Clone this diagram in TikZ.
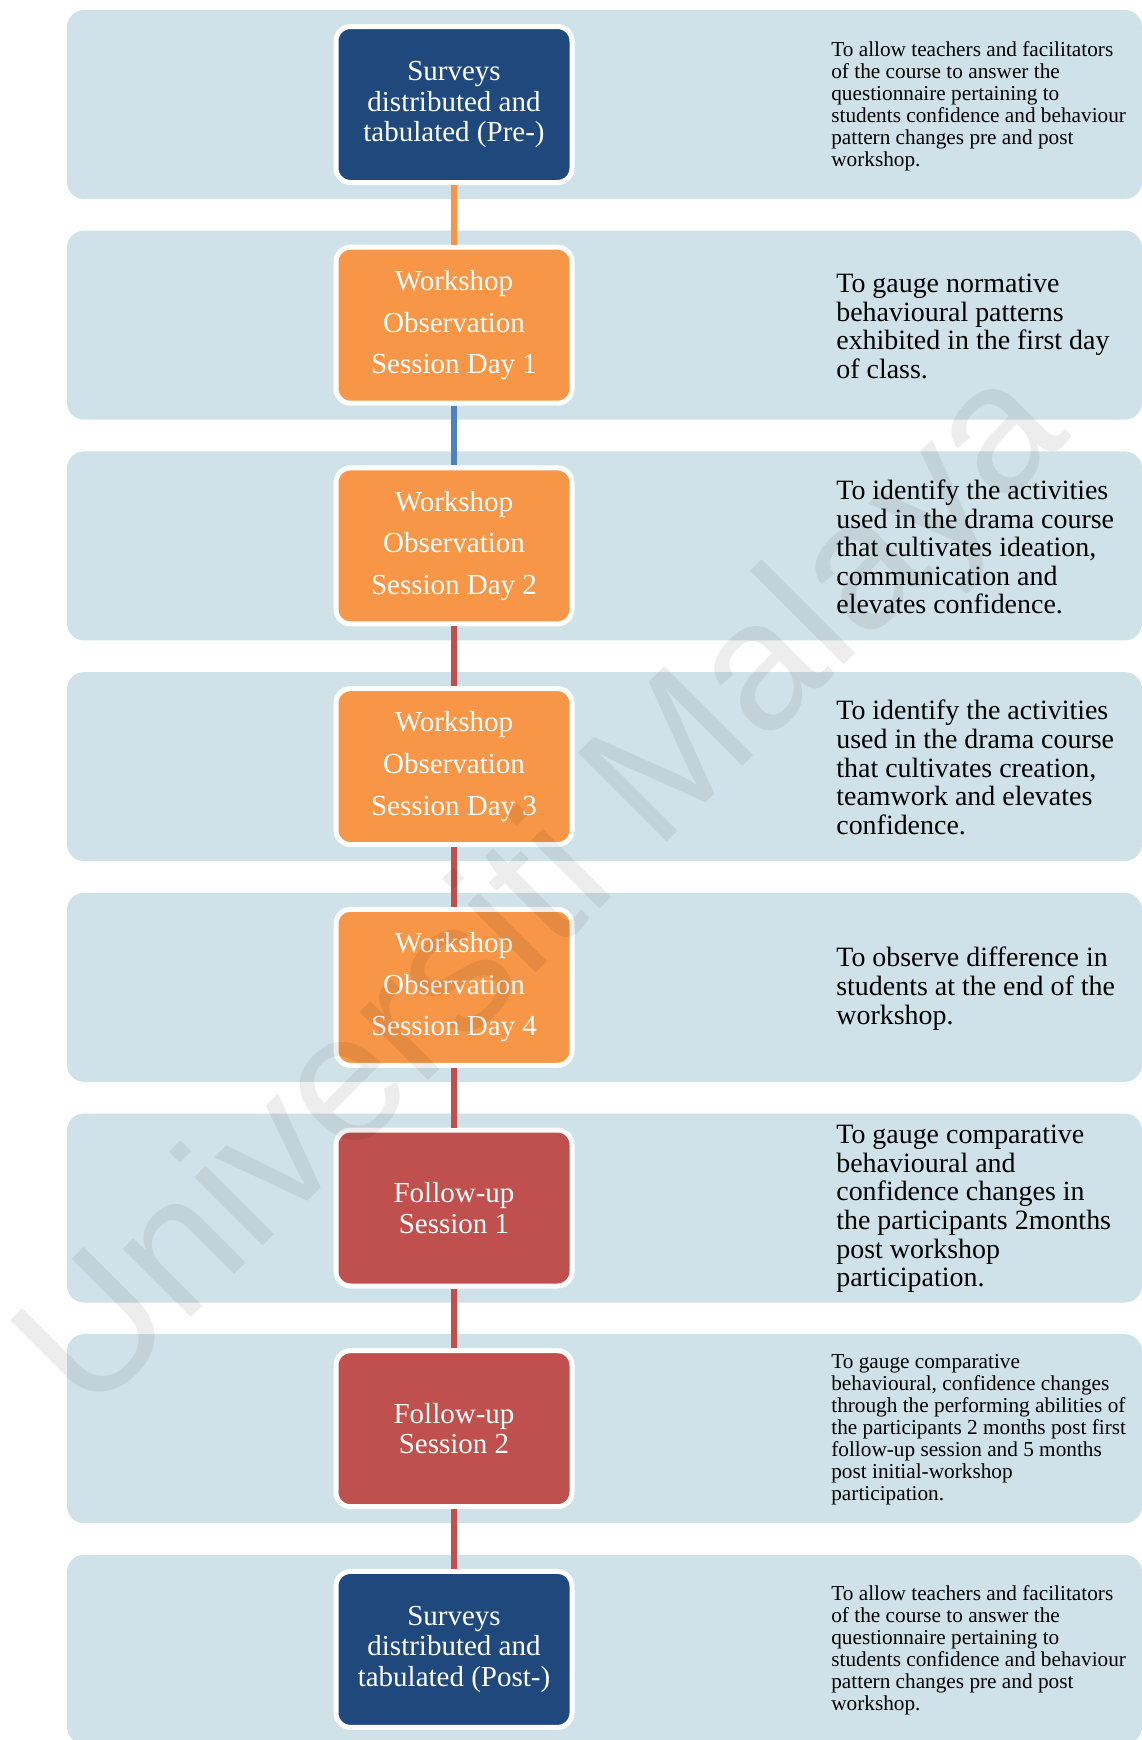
\documentclass[tikz,border=0pt]{standalone}
\usepackage{fontspec}
\setmainfont{Liberation Serif}
\newfontfamily\wmfont{Liberation Sans}
\definecolor{bandblue}{RGB}{208,226,233}
\definecolor{stepnavy}{RGB}{31,73,125}
\definecolor{steporange}{RGB}{247,150,70}
\definecolor{stepred}{RGB}{192,80,77}
\definecolor{linkblue}{RGB}{79,129,189}
\tikzset{
  band/.style={rectangle, rounded corners=0.34cm, fill=bandblue, minimum width=21.5cm, minimum height=3.78cm, inner sep=0pt},
  stepbox/.style={rectangle, rounded corners=0.29cm, draw=white, line width=0.1cm, minimum width=4.72cm, minimum height=3.12cm, text=white, align=center, inner sep=0pt, font=\fontsize{16.5}{17.4}\selectfont},
  obsbox/.style={stepbox, fill=steporange, font=\fontsize{16.5}{23.7}\selectfont},
  aimbig/.style={anchor=west, align=left, inner sep=0pt, font=\fontsize{15.9}{16.3}\selectfont},
  aimsmall/.style={anchor=west, align=left, inner sep=0pt, font=\fontsize{12.1}{12.5}\selectfont},
  link/.style={line width=0.12cm},
  watermark/.style={rotate=45, anchor=base, inner sep=0pt, opacity=0.07, font=\wmfont\fontsize{104}{104}\selectfont}
}
\begin{document}
\begin{tikzpicture}
    \useasboundingbox (0,0) rectangle (22.84,-34.8);
    \node[band] (band1) at (12.09,-2.09) {};
    \node[band] (band2) at (12.09,-6.504) {};
    \node[band] (band3) at (12.09,-10.918) {};
    \node[band] (band4) at (12.09,-15.332) {};
    \node[band] (band5) at (12.09,-19.746) {};
    \node[band] (band6) at (12.09,-24.16) {};
    \node[band] (band7) at (12.09,-28.574) {};
    \node[band] (band8) at (12.09,-32.988) {};
    \node[stepbox, fill=stepnavy] (srvpre) at (9.08,-2.09) {Surveys\\distributed and\\tabulated (Pre-)};
    \node[obsbox] (day1) at (9.08,-6.504) {Workshop\\Observation\\Session Day 1};
    \node[obsbox] (day2) at (9.08,-10.918) {Workshop\\Observation\\Session Day 2};
    \node[obsbox] (day3) at (9.08,-15.332) {Workshop\\Observation\\Session Day 3};
    \node[obsbox] (day4) at (9.08,-19.746) {Workshop\\Observation\\Session Day 4};
    \node[stepbox, fill=stepred] (fup1) at (9.08,-24.16) {Follow-up\\Session 1};
    \node[stepbox, fill=stepred] (fup2) at (9.08,-28.574) {Follow-up\\Session 2};
    \node[stepbox, fill=stepnavy] (srvpost) at (9.08,-32.988) {Surveys\\distributed and\\tabulated (Post-)};
    \draw [link, steporange] (srvpre) -- (day1);
    \draw [link, linkblue] (day1) -- (day2);
    \draw [link, stepred] (day2) -- (day3);
    \draw [link, stepred] (day3) -- (day4);
    \draw [link, stepred] (day4) -- (fup1);
    \draw [link, stepred] (fup1) -- (fup2);
    \draw [link, stepred] (fup2) -- (srvpost);
    \node[aimsmall] (aim1) at (16.62,-2.12) {To allow teachers and facilitators\\of the course to answer the\\questionnaire pertaining to\\students confidence and behaviour\\pattern changes pre and post\\workshop.};
    \node[aimbig] (aim2) at (16.72,-6.53) {To gauge normative\\behavioural patterns\\exhibited in the first day\\of class.};
    \node[aimbig] (aim3) at (16.72,-10.94) {To identify the activities\\used in the drama course\\that cultivates ideation,\\communication and\\elevates confidence.};
    \node[aimbig] (aim4) at (16.72,-15.35) {To identify the activities\\used in the drama course\\that cultivates creation,\\teamwork and elevates\\confidence.};
    \node[aimbig] (aim5) at (16.72,-19.77) {To observe difference in\\students at the end of the\\workshop.};
    \node[aimbig] (aim6) at (16.72,-24.18) {To gauge comparative\\behavioural and\\confidence changes in\\the participants 2months\\post workshop\\participation.};
    \node[aimsmall] (aim7) at (16.62,-28.6) {To gauge comparative\\behavioural, confidence changes\\through the performing abilities of\\the participants 2 months post first\\follow-up session and 5 months\\post initial-workshop\\participation.};
    \node[aimsmall] (aim8) at (16.62,-33.01) {To allow teachers and facilitators\\of the course to answer the\\questionnaire pertaining to\\students confidence and behaviour\\pattern changes pre and post\\workshop.};
    \node[watermark] (wm) at (11.62,-18.56) {Universiti Malaya};
\end{tikzpicture}
\end{document}
